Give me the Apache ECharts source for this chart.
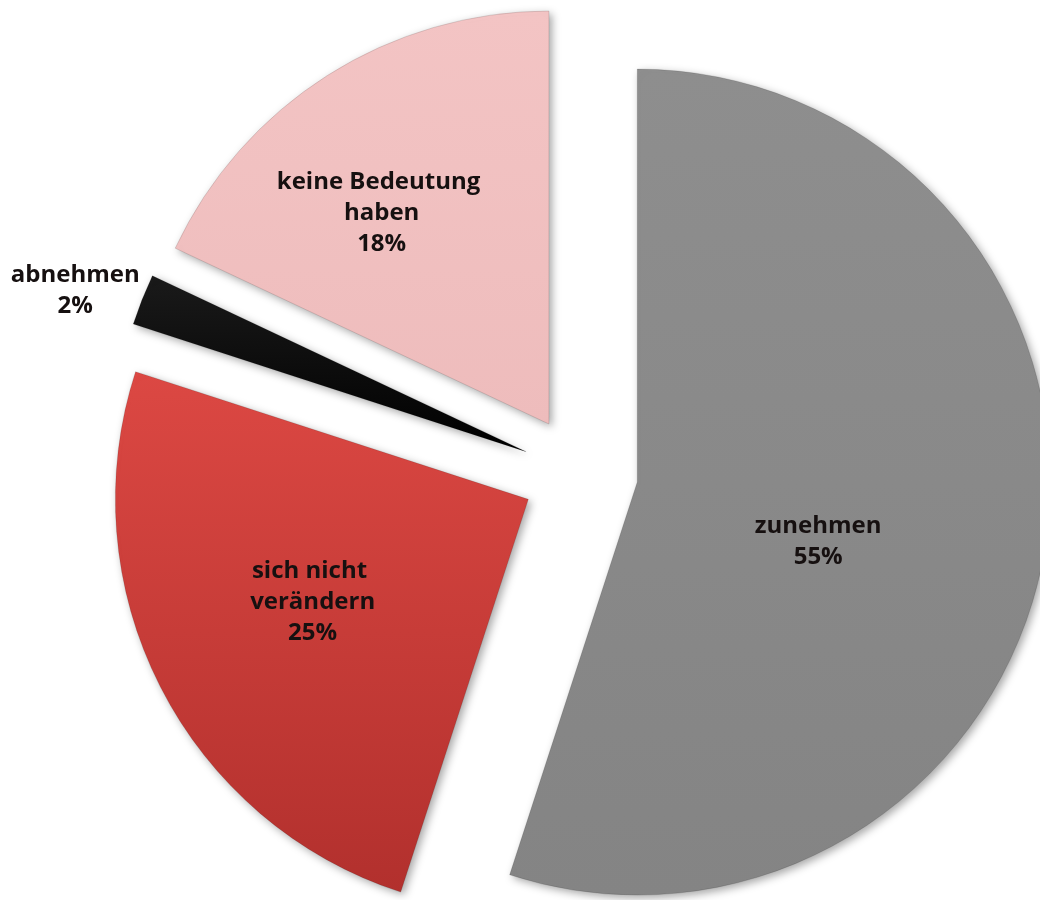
<!DOCTYPE html>
<html lang="de">
<head>
<meta charset="utf-8">
<title>Bedeutung – Entwicklung</title>
<script src="https://cdn.jsdelivr.net/npm/echarts@6/dist/echarts.min.js"></script>
<style>
  html, body { margin: 0; padding: 0; background: #ffffff; }
  #chart { width: 1040px; height: 900px; }
</style>
</head>
<body>
<div id="chart"></div>
<script>
// Share of answers, clockwise from 12 o'clock
const categories = ['zunehmen', 'sich nicht verändern', 'abnehmen', 'keine Bedeutung haben'];
const shares = [55, 25, 2, 18];

// Slice fills (top → bottom gradients give the bevelled look)
const fills = [
  ['#8e8e8e', '#848484'],
  ['#dc4843', '#b2302d'],
  ['#1a1a1a', '#000000'],
  ['#f3c4c4', '#eebcbc']
];
// Label wrapping width and nudges away from the default inside position
const labelWidths = [170, 160, 170, 240];
const labelNudges = [[-26, 27], [-29, 8], [-256, -84], [-55, -34]];

const chart = echarts.init(document.getElementById('chart'), null, { renderer: 'canvas' });

const data = categories.map((name, i) => ({
  name: name,
  value: shares[i],
  selected: true,
  itemStyle: {
    color: new echarts.graphic.LinearGradient(0, 0, 0, 1, [
      { offset: 0, color: fills[i][0] },
      { offset: 1, color: fills[i][1] }
    ])
  },
  label: { width: labelWidths[i] }
}));

chart.setOption({
  animation: false,
  backgroundColor: '#ffffff',
  series: [{
    type: 'pie',
    center: [580, 473],
    radius: 413,
    startAngle: 90,
    clockwise: true,
    selectedMode: 'multiple',
    selectedOffset: 58,
    avoidLabelOverlap: false,
    emphasis: { scale: false, disabled: true },
    select: { disabled: false },
    itemStyle: {
      borderColor: 'rgba(0,0,0,0.12)',
      borderWidth: 1,
      shadowBlur: 8,
      shadowOffsetX: 3,
      shadowOffsetY: 3,
      shadowColor: 'rgba(0,0,0,0.35)'
    },
    label: {
      show: true,
      position: 'inside',
      formatter: '{b}\n{c}%',
      overflow: 'break',
      align: 'center',
      fontFamily: 'Open Sans',
      fontWeight: 'bold',
      fontSize: 24,
      lineHeight: 31,
      color: '#161010'
    },
    labelLine: { show: false },
    labelLayout: function (params) {
      const n = labelNudges[params.dataIndex];
      return { dx: n[0], dy: n[1] };
    },
    data: data
  }]
});
</script>
</body>
</html>
